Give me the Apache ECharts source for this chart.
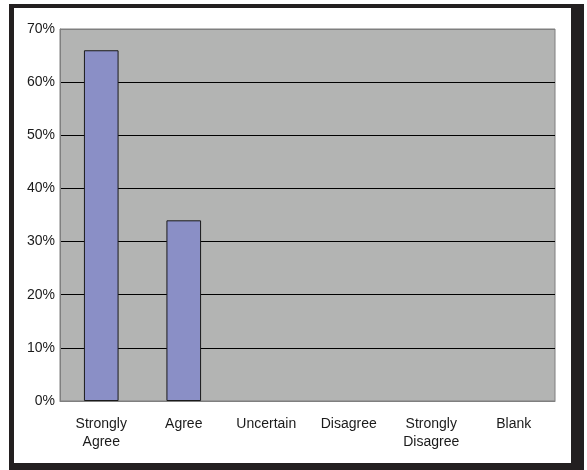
<!DOCTYPE html>
<html>
<head>
<meta charset="utf-8">
<script src="https://cdn.jsdelivr.net/npm/echarts@6/dist/echarts.min.js"></script>
<style>
  html, body { margin: 0; padding: 0; background: #ffffff; }
  #chart { width: 587px; height: 470px; }
</style>
</head>
<body>
<div id="chart"></div>
<script>
// Survey responses, share of respondents (%)
const categories = ['Strongly\nAgree', 'Agree', 'Uncertain', 'Disagree', 'Strongly\nDisagree', 'Blank'];
const responseShare = [66, 34, 0, 0, 0, 0];
const yMin = 0;
const yMax = 70;
const yStep = 10;

const chart = echarts.init(document.getElementById('chart'), null, { renderer: 'canvas' });

const frameColor = '#231f20';
const borderGray = '#7f7f7f';

// split lines: gray at the plot edges (0% and 70%), black inside
const tickCount = (yMax - yMin) / yStep + 1;
const splitColors = [];
for (let i = 0; i < tickCount; i++) {
  splitColors.push(i === 0 || i === tickCount - 1 ? borderGray : '#000000');
}

// empty categories get no outline, so nothing is drawn for them
const barData = responseShare.map(v => ({
  value: v,
  itemStyle: { borderWidth: v === 0 ? 0 : 1 }
}));

chart.setOption({
  backgroundColor: '#ffffff',
  animation: false,
  textStyle: { fontFamily: 'Liberation Sans, Arial, sans-serif' },
  graphic: [
    { type: 'rect', shape: { x: 9, y: 4, width: 5, height: 466 }, style: { fill: frameColor }, z: 100 },
    { type: 'rect', shape: { x: 9, y: 4, width: 575, height: 4 }, style: { fill: frameColor }, z: 100 },
    { type: 'rect', shape: { x: 571, y: 4, width: 13, height: 466 }, style: { fill: frameColor }, z: 100 },
    { type: 'rect', shape: { x: 9, y: 463, width: 575, height: 7 }, style: { fill: frameColor }, z: 100 }
  ],
  grid: {
    left: 60, right: 32, top: 29, bottom: 69,
    show: true,
    backgroundColor: '#b3b4b3',
    borderColor: borderGray,
    borderWidth: 1
  },
  xAxis: {
    type: 'category',
    data: categories,
    axisLine: { show: true, lineStyle: { color: borderGray, width: 1 } },
    axisTick: { show: false },
    axisLabel: {
      color: '#1a1a1a',
      fontSize: 14,
      lineHeight: 18,
      margin: 14,
      interval: 0
    },
    splitLine: { show: false }
  },
  yAxis: {
    type: 'value',
    min: yMin,
    max: yMax,
    interval: yStep,
    axisLine: { show: true, lineStyle: { color: borderGray, width: 1 } },
    axisTick: { show: false },
    axisLabel: {
      color: '#1a1a1a',
      fontSize: 14,
      margin: 5,
      formatter: '{value}%'
    },
    splitLine: { show: true, lineStyle: { color: splitColors, width: 1 } }
  },
  series: [{
    type: 'bar',
    data: barData,
    barWidth: '42%',
    itemStyle: {
      color: '#8a8fc6',
      borderColor: '#1a1a1a',
      borderWidth: 1
    }
  }]
});
</script>
</body>
</html>
